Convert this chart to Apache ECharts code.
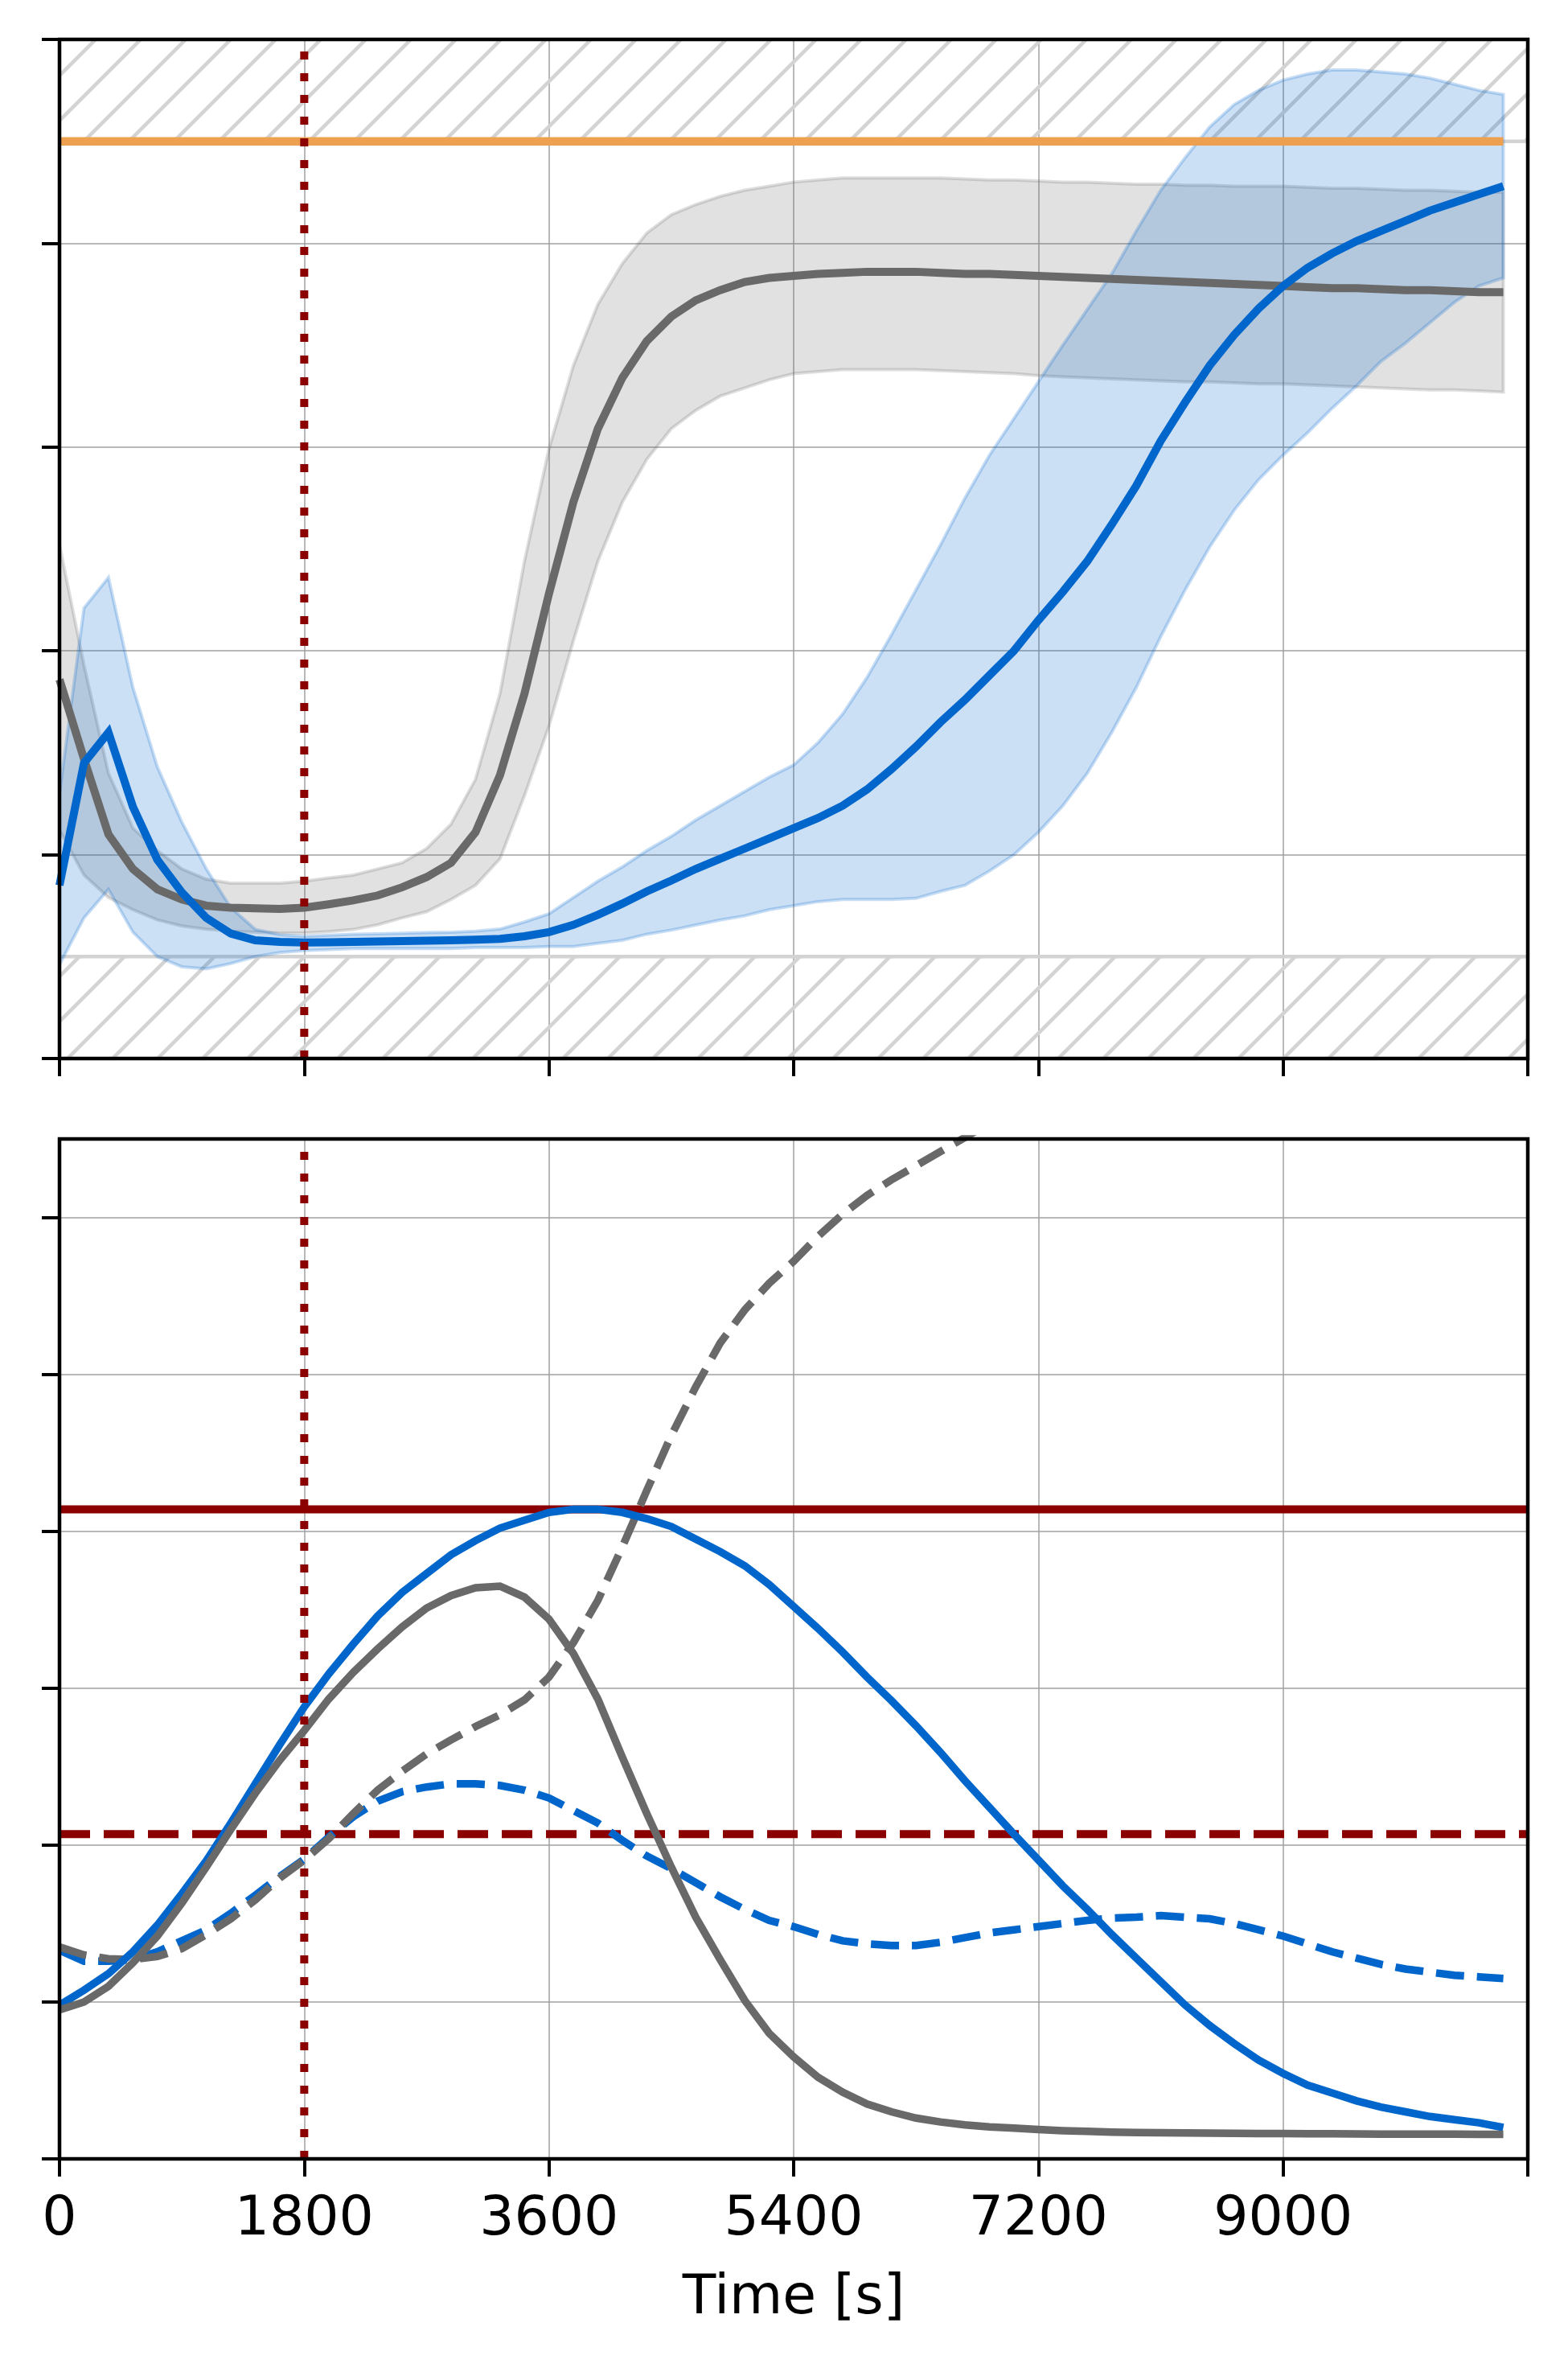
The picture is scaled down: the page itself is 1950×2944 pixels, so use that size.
<!DOCTYPE html>
<html lang="en">
<head>
<meta charset="UTF-8">
<title>ECharts</title>
<style>body{margin:0;background:#fff}</style>
</head>
<body>
<div id="main" style="width:1950px;height:2944px"></div>
<script src="https://cdn.jsdelivr.net/npm/echarts@6/dist/echarts.min.js"></script>
<script>
// time stamps [s]
var time = [0,180,360,540,720,900,1080,1260,1440,1620,1800,1980,2160,2340,2520,2700,2880,3060,3240,3420,
    3600,3780,3960,4140,4320,4500,4680,4860,5040,5220,5400,5580,5760,5940,6120,6300,6480,6660,6840,7020,
    7200,7380,7560,7740,7920,8100,8280,8460,8640,8820,9000,9180,9360,9540,9720,9900,10080,10260,10440,10620];

// top panel
var grayMean = [1.86,1.47,1.10,0.93,0.83,0.78,0.75,0.74,0.737,0.734,0.74,0.757,0.776,0.80,0.84,0.89,0.96,1.11,1.39,1.79,
    2.28,2.73,3.09,3.34,3.52,3.64,3.72,3.77,3.81,3.83,3.84,3.85,3.855,3.86,3.86,3.86,3.855,3.85,3.85,3.845,
    3.84,3.835,3.83,3.825,3.82,3.815,3.81,3.805,3.80,3.795,3.79,3.785,3.78,3.78,3.775,3.77,3.77,3.765,3.76,3.76];
var grayUpper = [2.52,1.93,1.40,1.13,1.02,0.93,0.88,0.86,0.86,0.86,0.87,0.886,0.90,0.93,0.96,1.03,1.15,1.37,1.79,2.44,
    2.99,3.40,3.70,3.90,4.05,4.14,4.19,4.23,4.26,4.28,4.30,4.31,4.32,4.32,4.32,4.32,4.32,4.315,4.31,4.31,
    4.305,4.30,4.30,4.295,4.29,4.29,4.285,4.285,4.28,4.28,4.28,4.275,4.27,4.27,4.265,4.26,4.26,4.255,4.25,4.25];
var grayLower = [1.12,0.90,0.79,0.73,0.68,0.65,0.634,0.625,0.62,0.616,0.616,0.623,0.633,0.656,0.69,0.72,0.78,0.85,0.98,1.29,
    1.63,2.05,2.44,2.73,2.94,3.09,3.18,3.25,3.29,3.33,3.36,3.37,3.38,3.38,3.38,3.38,3.375,3.37,3.365,3.36,
    3.35,3.345,3.34,3.335,3.33,3.325,3.32,3.32,3.315,3.31,3.31,3.305,3.30,3.295,3.29,3.285,3.28,3.28,3.275,3.27];
var blueMean = [0.85,1.45,1.60,1.235,0.975,0.815,0.69,0.613,0.58,0.572,0.569,0.57,0.572,0.574,0.576,0.578,0.58,0.583,0.587,0.60,
    0.62,0.656,0.705,0.76,0.82,0.873,0.93,0.98,1.03,1.08,1.13,1.18,1.24,1.32,1.42,1.53,1.65,1.76,1.88,2.00,
    2.15,2.29,2.44,2.62,2.81,3.03,3.22,3.40,3.55,3.68,3.79,3.88,3.95,4.01,4.06,4.11,4.16,4.20,4.24,4.28];
var blueUpper = [1.30,2.21,2.36,1.82,1.43,1.16,0.93,0.74,0.634,0.608,0.60,0.605,0.61,0.612,0.615,0.618,0.62,0.625,0.635,0.67,
    0.71,0.79,0.87,0.94,1.02,1.09,1.17,1.24,1.31,1.38,1.44,1.55,1.69,1.87,2.08,2.30,2.52,2.75,2.96,3.14,
    3.32,3.50,3.675,3.85,4.06,4.26,4.42,4.57,4.68,4.75,4.80,4.83,4.85,4.85,4.84,4.83,4.81,4.78,4.75,4.73];
var blueLower = [0.46,0.69,0.83,0.62,0.50,0.45,0.44,0.466,0.50,0.52,0.53,0.535,0.54,0.54,0.54,0.54,0.54,0.545,0.545,0.545,
    0.55,0.55,0.565,0.58,0.61,0.63,0.655,0.68,0.70,0.73,0.75,0.77,0.78,0.78,0.78,0.786,0.82,0.85,0.92,1.00,
    1.11,1.24,1.40,1.60,1.82,2.07,2.30,2.51,2.69,2.84,2.96,3.07,3.19,3.30,3.42,3.51,3.61,3.71,3.79,3.83];
var upperLimit = 4.5;
var hatchTop = [4.5, 5];
var hatchBottom = [0, 0.5];

// bottom panel
var blueSolid = [0.98,1.075,1.18,1.32,1.49,1.69,1.90,2.14,2.39,2.64,2.88,3.09,3.28,3.46,3.61,3.73,3.85,3.94,4.02,4.07,
    4.12,4.14,4.14,4.12,4.08,4.03,3.95,3.87,3.78,3.66,3.52,3.38,3.23,3.07,2.92,2.76,2.59,2.41,2.24,2.07,
    1.905,1.74,1.59,1.43,1.28,1.13,0.98,0.85,0.735,0.63,0.545,0.47,0.42,0.37,0.33,0.30,0.27,0.25,0.23,0.20];
var graySolid = [0.95,1.00,1.10,1.25,1.42,1.63,1.86,2.10,2.33,2.54,2.73,2.93,3.10,3.25,3.39,3.51,3.59,3.64,3.65,3.58,
    3.44,3.22,2.93,2.56,2.20,1.86,1.54,1.27,1.01,0.80,0.65,0.52,0.425,0.35,0.30,0.26,0.235,0.217,0.204,0.196,
    0.187,0.18,0.175,0.17,0.168,0.166,0.165,0.164,0.163,0.162,0.161,0.16,0.16,0.159,0.158,0.158,0.157,0.157,0.156,0.156];
var grayDashed = [1.35,1.30,1.275,1.27,1.29,1.34,1.43,1.53,1.65,1.79,1.905,2.04,2.20,2.35,2.47,2.58,2.67,2.755,2.83,2.925,
    3.07,3.29,3.56,3.90,4.26,4.61,4.92,5.20,5.41,5.58,5.72,5.88,6.02,6.14,6.24,6.33,6.42,6.51,6.60];
var blueDashed = [1.33,1.26,1.26,1.27,1.32,1.39,1.46,1.565,1.68,1.80,1.91,2.05,2.18,2.28,2.34,2.37,2.39,2.39,2.38,2.35,
    2.30,2.22,2.14,2.03,1.93,1.85,1.76,1.67,1.59,1.52,1.48,1.43,1.39,1.37,1.36,1.36,1.38,1.41,1.44,1.46,
    1.48,1.50,1.52,1.535,1.54,1.55,1.54,1.53,1.50,1.46,1.42,1.37,1.32,1.28,1.24,1.21,1.19,1.17,1.16,1.15];
var redSolid = 4.14;
var redDashed = 2.07;
var marker = 1800;
var xTicks = [0, 10800, 1800];

var BLUE = '#0066cc', GRAY = '#696969', ORANGE = '#eda050', RED = '#8b0000';

function pairs(ys) {
    var out = [];
    for (var i = 0; i < ys.length; i++) out.push([time[i], ys[i]]);
    return out;
}

function hatchImage() {
    var s = 56;
    var c = document.createElement('canvas');
    c.width = s; c.height = s;
    var ctx = c.getContext('2d');
    ctx.strokeStyle = '#d3d3d3';
    ctx.lineWidth = 4.5;
    ctx.beginPath();
    ctx.moveTo(-3, s + 3); ctx.lineTo(s + 3, -3);
    ctx.moveTo(-3, 3); ctx.lineTo(3, -3);
    ctx.moveTo(s - 3, s + 3); ctx.lineTo(s + 3, s - 3);
    ctx.stroke();
    return c;
}
var hatch = {image: hatchImage(), repeat: 'repeat'};

var grids = [
    {left: 74, top: 49, width: 1826, height: 1267},
    {left: 74, top: 1416, width: 1826, height: 1268}
];

function xAxis(idx, labels) {
    return {
        type: 'value', gridIndex: idx, min: xTicks[0], max: xTicks[1], interval: xTicks[2],
        axisLine: {show: false},
        axisTick: {show: true, length: 22, lineStyle: {color: '#000', width: 4}},
        axisLabel: {
            show: labels, margin: 42, fontFamily: 'DejaVu Sans', fontSize: 68, color: '#000',
            formatter: function (v) { return v === xTicks[1] ? '' : String(v); }
        },
        splitLine: {show: true, lineStyle: {color: '#a0a0a0', width: 1.5}},
        name: labels ? 'Time [s]' : '', nameLocation: 'middle', nameGap: 140,
        nameTextStyle: {fontFamily: 'DejaVu Sans', fontSize: 68, color: '#000'}
    };
}
function yAxis(idx, max, ticks) {
    return {
        type: 'value', gridIndex: idx, min: 0, max: max, interval: 1,
        axisLine: {show: false},
        axisTick: {show: true, length: 22, lineStyle: {color: '#000', width: 4}, customValues: ticks},
        axisLabel: {show: false},
        splitLine: {show: true, lineStyle: {color: '#a0a0a0', width: 1.5}}
    };
}

function line(name, idx, data, color, width, dash, z) {
    return {
        name: name, type: 'line', xAxisIndex: idx, yAxisIndex: idx, data: data,
        symbol: 'none', z: z || 3, silent: true,
        lineStyle: {color: color, width: width, type: dash || 'solid', cap: 'butt', join: 'miter'}
    };
}

// shaded spread between lower and upper, drawn as one polygon through the axes
function band(name, lower, upper, rgb) {
    return {
        name: name, type: 'custom', xAxisIndex: 0, yAxisIndex: 0, z: 2, silent: true,
        data: [[time[0], lower[0]]],
        renderItem: function (params, api) {
            var pts = [];
            for (var i = 0; i < upper.length; i++) pts.push(api.coord([time[i], upper[i]]));
            for (var j = lower.length - 1; j >= 0; j--) pts.push(api.coord([time[j], lower[j]]));
            return {
                type: 'polygon',
                shape: {points: pts},
                style: {fill: 'rgba(' + rgb + ',0.2)', stroke: 'rgba(' + rgb + ',0.22)', lineWidth: 4}
            };
        }
    };
}

var series = [];
// hatched limit zones
var hz = line('limits', 0, [], '#d3d3d3', 0, null, 1);
hz.markArea = {
    silent: true,
    itemStyle: {color: hatch, borderWidth: 0},
    data: [[{yAxis: hatchTop[0]}, {yAxis: hatchTop[1]}], [{yAxis: hatchBottom[0]}, {yAxis: hatchBottom[1]}]]
};
series.push(hz);
series.push(line('limitEdgeLo', 0, [[xTicks[0], hatchBottom[1]], [xTicks[1], hatchBottom[1]]], '#d3d3d3', 4.5, null, 1));
series.push(line('limitEdgeHi', 0, [[xTicks[0], hatchTop[0]], [xTicks[1], hatchTop[0]]], '#d3d3d3', 4.5, null, 1));

series.push(band('gband', grayLower, grayUpper, '105,105,105'));
series.push(band('bband', blueLower, blueUpper, '0,102,204'));
series.push(line('grayMean', 0, pairs(grayMean), GRAY, 10, null, 3));
series.push(line('blueMean', 0, pairs(blueMean), BLUE, 10, null, 3));
series.push(line('upper', 0, [[time[0], upperLimit], [time[time.length - 1], upperLimit]], ORANGE, 10.5, null, 4));
series.push(line('marker0', 0, [[marker, 0], [marker, hatchTop[1]]], RED, 10, [10, 17], 5));

series.push(line('redSolid', 1, [[xTicks[0], redSolid], [xTicks[1], redSolid]], RED, 10, null, 3));
series.push(line('redDashed', 1, [[xTicks[0], redDashed], [xTicks[1], redDashed]], RED, 10, [38, 17], 3));
series.push(line('blueDashed', 1, pairs(blueDashed), BLUE, 9.5, [35, 16], 3));
series.push(line('grayDashed', 1, pairs(grayDashed), GRAY, 9.5, [35, 16], 3));
series.push(line('blueSolid', 1, pairs(blueSolid), BLUE, 9.5, null, 3));
series.push(line('graySolid', 1, pairs(graySolid), GRAY, 9.5, null, 3));
series.push(line('marker1', 1, [[marker, 0], [marker, 6.5]], RED, 10, [10, 17], 5));

var chart = echarts.init(document.getElementById('main'));
chart.setOption({
    animation: false,
    backgroundColor: '#fff',
    grid: grids,
    xAxis: [xAxis(0, false), xAxis(1, true)],
    yAxis: [yAxis(0, 5, [0, 1, 2, 3, 4, 5]), yAxis(1, 6.5, [0, 1, 2, 3, 4, 5, 6])],
    series: series,
    graphic: grids.map(function (g) {
        return {
            type: 'rect', z: 100, silent: true,
            shape: {x: g.left, y: g.top, width: g.width, height: g.height},
            style: {fill: 'none', stroke: '#000', lineWidth: 4.5}
        };
    })
});
</script>
</body>
</html>
